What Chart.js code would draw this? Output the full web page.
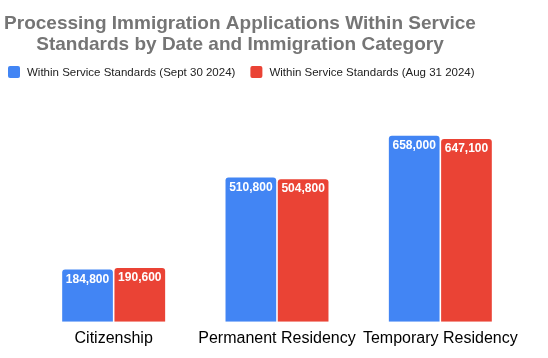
<!doctype html>
<html>
<head>
  <meta charset="utf-8">
  <title>Processing Immigration Applications</title>
  <script src="https://cdn.jsdelivr.net/npm/chart.js@4.4.0/dist/chart.umd.min.js"></script>
  <style>
    html, body { margin: 0; padding: 0; background: #fff; }
    #wrap { width: 548px; height: 358px; }
  </style>
</head>
<body>
  <div id="wrap"><canvas id="myChart"></canvas></div>
  <script>
    var categories = ['Citizenship', 'Permanent Residency', 'Temporary Residency'];
    var sept30 = [184800, 510800, 658000];
    var aug31 = [190600, 504800, 647100];
    var seriesNames = ['Within Service Standards (Sept 30 2024)', 'Within Service Standards (Aug 31 2024)'];
    var titleLines = ['Processing Immigration Applications Within Service', 'Standards by Date and Immigration Category'];

    var FONT = "'Liberation Sans', Arial, sans-serif";

    // title, legend and value labels drawn by hand so they sit where the original does
    var extras = {
      id: 'extras',
      afterDraw: function (chart) {
        var ctx = chart.ctx;
        ctx.save();
        // title
        ctx.fillStyle = '#757575';
        ctx.font = 'bold 19px ' + FONT;
        ctx.textAlign = 'center';
        ctx.textBaseline = 'alphabetic';
        ctx.fillText(titleLines[0], 240, 29);
        ctx.fillText(titleLines[1], 240, 50);
        // legend
        ctx.font = '11.5px ' + FONT;
        ctx.textAlign = 'left';
        var x = 8;
        chart.data.datasets.forEach(function (ds) {
          ctx.fillStyle = ds.backgroundColor;
          ctx.beginPath();
          ctx.roundRect(x, 66, 12, 12, 2);
          ctx.fill();
          ctx.fillStyle = '#222';
          ctx.fillText(ds.label, x + 19, 76);
          x += 19 + ctx.measureText(ds.label).width + 15;
        });
        // values on bars
        ctx.fillStyle = '#fff';
        ctx.font = 'bold 12px ' + FONT;
        ctx.textAlign = 'center';
        ctx.textBaseline = 'middle';
        chart.data.datasets.forEach(function (ds, i) {
          chart.getDatasetMeta(i).data.forEach(function (bar, j) {
            ctx.fillText(ds.data[j].toLocaleString('en-US'), bar.x, bar.y + 10);
          });
        });
        ctx.restore();
      }
    };

    var ctx = document.getElementById('myChart').getContext('2d');
    var chart = new Chart(ctx, {
      type: 'bar',
      data: {
        labels: categories,
        datasets: [{
          label: seriesNames[0],
          data: sept30,
          backgroundColor: '#4285F4',
          borderRadius: 3,
          categoryPercentage: 0.64,
          barPercentage: 0.97
        }, {
          label: seriesNames[1],
          data: aug31,
          backgroundColor: '#EA4335',
          borderRadius: 3,
          categoryPercentage: 0.64,
          barPercentage: 0.97
        }]
      },
      options: {
        responsive: true,
        maintainAspectRatio: false,
        animation: false,
        layout: { padding: { top: 124, left: 32, right: 26, bottom: 3 } },
        plugins: {
          legend: { display: false },
          title: { display: false },
          tooltip: { enabled: false }
        },
        scales: {
          x: {
            grid: { display: false, drawTicks: false },
            border: { display: false },
            ticks: {
              color: '#000', padding: 7, maxRotation: 0, minRotation: 0, autoSkip: false,
              font: { family: FONT, size: 16 }
            }
          },
          y: {
            display: false,
            min: 0,
            max: 700000
          }
        }
      },
      plugins: [extras]
    });
  </script>
</body>
</html>
